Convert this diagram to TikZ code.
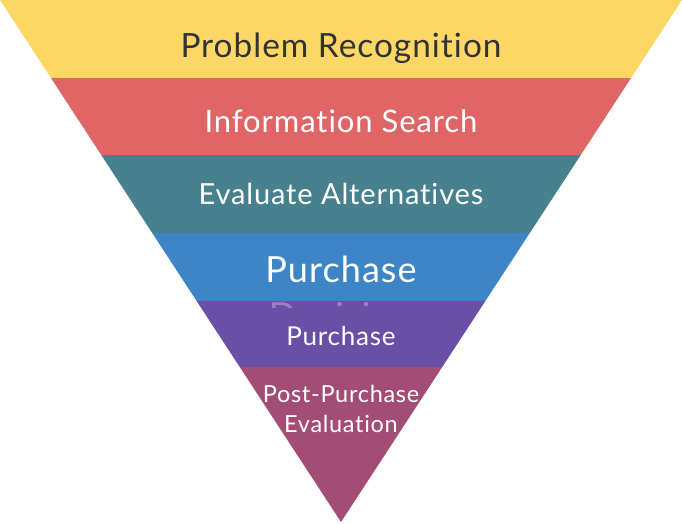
\documentclass[tikz,border=0pt]{standalone}
\usepackage{fontspec}
\setmainfont{Lato}[LetterSpace=3, Ligatures=NoCommon]
\usetikzlibrary{positioning}
\definecolor{recogYellow}{RGB}{253,215,102}
\definecolor{searchRed}{RGB}{224,101,102}
\definecolor{evalTeal}{RGB}{71,129,142}
\definecolor{decideBlue}{RGB}{62,133,199}
\definecolor{buyPurple}{RGB}{106,79,166}
\definecolor{postMagenta}{RGB}{163,76,117}
\definecolor{darkText}{RGB}{51,51,51}

\begin{document}
\begin{tikzpicture}[x=1pt, y=-1pt,
    every node/.style={inner sep=0pt, anchor=base, text=white},
    stage/.style={font=\fontsize{31}{36}\selectfont},
    small/.style={font=\fontsize{23.5}{30}\selectfont, align=center}]
  \useasboundingbox (0,0) rectangle (682,523);
  \begin{scope}
    \clip (0,0) -- (682,0) -- (341,522) -- cycle;
    % bands, top to bottom
    \fill[recogYellow] (0,0)   rectangle (682,78);
    \fill[searchRed]   (0,78)  rectangle (682,155);
    \fill[evalTeal]    (0,155) rectangle (682,233);
    \fill[decideBlue]  (0,233) rectangle (682,301);
    \fill[buyPurple]   (0,301) rectangle (682,367);
    \fill[postMagenta] (0,367) rectangle (682,523);
  \end{scope}
  \node[font=\fontsize{36}{40}\selectfont] (buy1) at (341,282) {Purchase};
  \begin{scope}
    \clip (0,302) rectangle (682,307);
    \node[font=\fontsize{36}{40}\selectfont, text opacity=0.3] (decide) at (341,328) {Decision};
  \end{scope}
  \node[stage, text=darkText, font=\fontsize{33.4}{38}\selectfont] (recog) at (341,57) {Problem Recognition};
  \node[stage] (search) at (341,132) {Information Search};
  \node[stage, font=\fontsize{29}{34}\selectfont] (alt) at (341,204) {Evaluate Alternatives};
  \node[small, font=\fontsize{26}{30}\selectfont] (buy2) at (341,345) {Purchase};
  \node[small] (post) at (341,432) {Post-Purchase\\Evaluation};
\end{tikzpicture}
\end{document}
